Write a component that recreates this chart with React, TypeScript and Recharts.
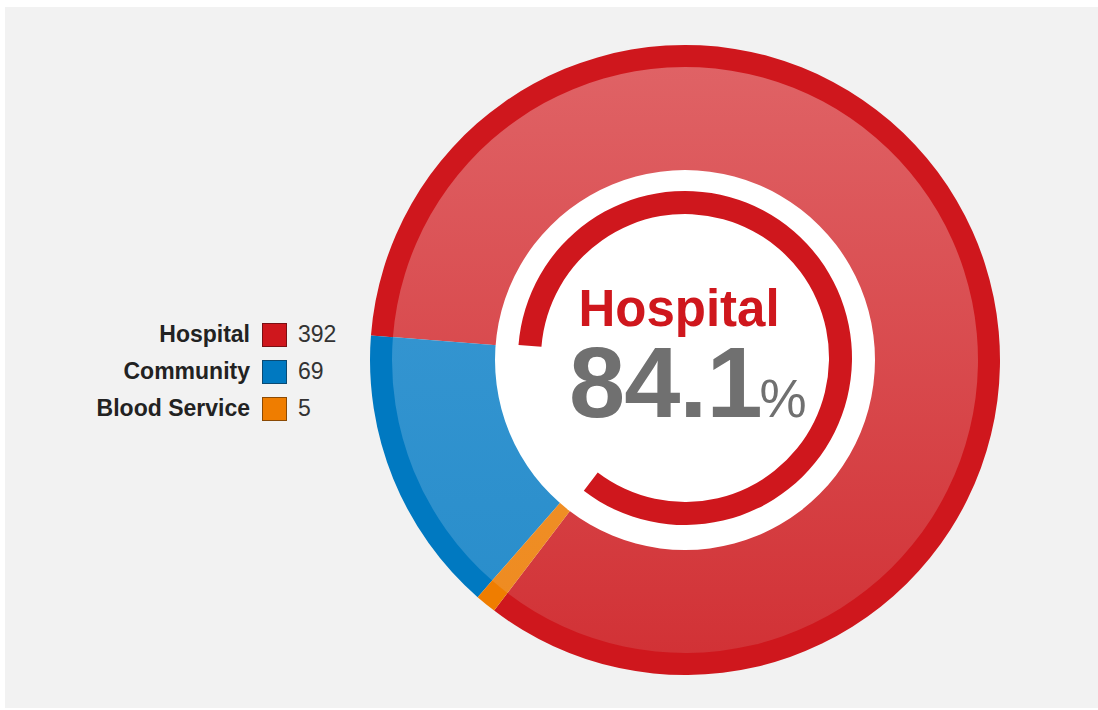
import { PieChart, Pie, Cell } from 'recharts';

const categories = ['Hospital', 'Community', 'Blood Service'];
const counts = [392, 69, 5];
const ringColors = ['#cf171d', '#0079c1', '#ef7d00'];
const gradTop = ['#e06467', '#3d9bd5', '#f29733'];
const gradBottom = ['#d13034', '#278cca', '#ee8a1f'];
const legendBorders = ['#7a1014', '#0b4a72', '#8a4a05'];

const centerLabel = 'Hospital';
const centerValue = '84.1';

const W = 1093;
const H = 701;
const CX = 680;
const CY = 353;
const START = -127.3;
const FONT = '"Liberation Sans", Arial, sans-serif';

const data = categories.map((name, i) => ({ name, value: counts[i] }));

function LegendBox() {
  return (
    <div style={{ position: 'absolute', left: 0, top: 309, fontFamily: FONT, fontSize: 23 }}>
      {data.map((d, i) => (
        <div key={d.name} style={{ display: 'flex', alignItems: 'center', height: 37 }}>
          <span style={{ width: 245, textAlign: 'right', fontWeight: 'bold', color: '#222' }}>{d.name}</span>
          <span
            style={{
              display: 'inline-block',
              width: 23,
              height: 22,
              marginLeft: 12,
              background: ringColors[i],
              border: `1px solid ${legendBorders[i]}`,
            }}
          />
          <span style={{ marginLeft: 11, color: '#333' }}>{d.value}</span>
        </div>
      ))}
    </div>
  );
}

export default function App() {
  return (
    <div style={{ position: 'absolute', left: 0, top: 0, width: 1098, height: 710, background: '#fff' }}>
      <div style={{ position: 'absolute', left: 5, top: 7, width: W, height: H, background: '#f2f2f2' }}>
        <PieChart width={W} height={H} margin={{ top: 0, right: 0, bottom: 0, left: 0 }}>
          <defs>
            {categories.map((c, i) => (
              <linearGradient
                key={c}
                id={`g${i}`}
                gradientUnits="userSpaceOnUse"
                x1={0}
                y1={CY - 315}
                x2={0}
                y2={CY + 315}
              >
                <stop offset="0%" stopColor={gradTop[i]} />
                <stop offset="100%" stopColor={gradBottom[i]} />
              </linearGradient>
            ))}
          </defs>
          <Pie
            data={data}
            dataKey="value"
            cx={CX}
            cy={CY}
            innerRadius={189}
            outerRadius={294}
            startAngle={START}
            endAngle={START + 360}
            stroke="none"
            isAnimationActive={false}
          >
            {data.map((d, i) => (
              <Cell key={d.name} fill={`url(#g${i})`} />
            ))}
          </Pie>
          <Pie
            data={data}
            dataKey="value"
            cx={CX}
            cy={CY}
            innerRadius={293}
            outerRadius={315}
            startAngle={START}
            endAngle={START + 360}
            stroke="none"
            isAnimationActive={false}
          >
            {data.map((d, i) => (
              <Cell key={d.name} fill={ringColors[i]} />
            ))}
          </Pie>
          <Pie
            data={[{ name: 'hole', value: 1 }]}
            dataKey="value"
            cx={CX}
            cy={CY}
            innerRadius={0}
            outerRadius={190}
            fill="#ffffff"
            stroke="none"
            isAnimationActive={false}
          />
          <Pie
            data={data}
            dataKey="value"
            cx={CX}
            cy={CY - 2}
            innerRadius={144}
            outerRadius={167}
            startAngle={START}
            endAngle={START + 360}
            stroke="none"
            isAnimationActive={false}
          >
            {data.map((d, i) => (
              <Cell key={d.name} fill={i === 0 ? ringColors[0] : 'transparent'} />
            ))}
          </Pie>
        </PieChart>
        <svg
          width={W}
          height={H}
          style={{ position: 'absolute', left: 0, top: 0, pointerEvents: 'none' }}
        >
          <text x={674} y={319} textAnchor="middle" fill="#cf171d" fontFamily={FONT} fontWeight="bold" fontSize={51}>
            {centerLabel}
          </text>
          <text
            x={564}
            y={410}
            textAnchor="start"
            fill="#707070"
            fontFamily={FONT}
            fontWeight="bold"
            fontSize={101}
            letterSpacing={-1}
          >
            {centerValue}
            <tspan dx={-2} fontSize={53} fontWeight="normal" letterSpacing={0}>%</tspan>
          </text>
        </svg>
        <LegendBox />
      </div>
    </div>
  );
}
